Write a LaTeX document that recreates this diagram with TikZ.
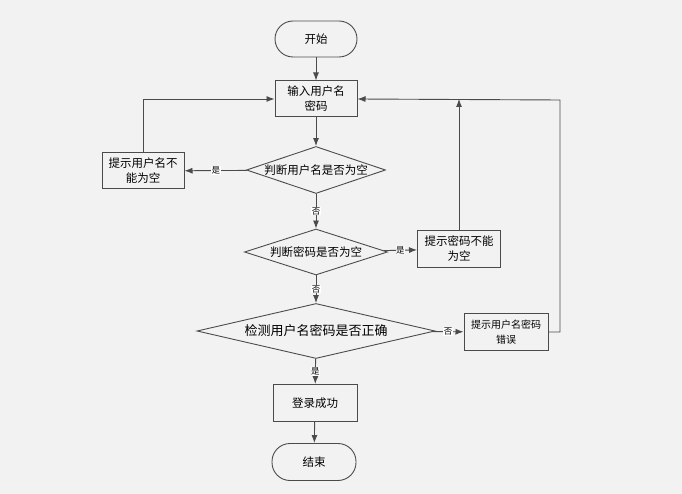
\documentclass[tikz,border=0pt]{standalone}
\usepackage{fontspec}
\setmainfont{Noto Sans CJK SC}
\usetikzlibrary{shapes.geometric,arrows.meta}
\definecolor{bggray}{RGB}{242,242,242}
\definecolor{linegray}{RGB}{75,75,75}

\begin{document}
\begin{tikzpicture}[x=1pt,y=-1pt,
		>={Latex[length=8pt,width=6pt]},
		every path/.style={draw=linegray, line width=0.9pt},
		term/.style={rectangle, rounded corners=18pt, draw, fill=bggray, line width=0.9pt, minimum width=82pt, minimum height=36pt, font=\fontsize{11.5}{15}\selectfont},
		proc/.style={rectangle, draw, fill=bggray, line width=1pt, minimum width=82pt, minimum height=36pt, inner sep=1pt, align=center, font=\fontsize{11.5}{15}\selectfont},
		dec/.style={diamond, draw, fill=bggray, line width=0.9pt, inner sep=0pt, label={[font=\fontsize{11.5}{15}\selectfont]center:#1}},
		yesno/.style={fill=white, inner sep=0.5pt, font=\fontsize{8.5}{9}\selectfont}]
			\fill[bggray, draw=none] (0,0) rectangle (682,494);
			
			\node[term] (start) at (316,39) {开始};
			\node[proc] (input) at (316,99) {输入用户名\\密码};
			\node[dec=判断用户名是否为空, minimum width=139pt, minimum height=47pt] (chkuser) at (316,170) {};
			\node[proc] (userempty) at (143,171) {提示用户名不\\能为空};
			\node[dec=判断密码是否为空, minimum width=143pt, minimum height=46pt] (chkpwd) at (316,252) {};
			\node[proc, minimum width=83pt] (pwdempty) at (459,249) {提示密码不能\\为空};
			\node[diamond, draw, fill=bggray, line width=0.9pt, inner sep=0pt, minimum width=238pt, minimum height=55pt, label={[font=\fontsize{13}{15}\selectfont]center:检测用户名密码是否正确}] (chkall) at (316,331) {};
			\node[proc, minimum width=84pt, minimum height=37pt, font=\fontsize{10}{15}\selectfont] (wrong) at (506,332) {提示用户名密码\\错误};
			\node[proc, minimum width=84pt, minimum height=37pt] (success) at (315,403) {登录成功};
			\node[term, minimum width=84pt, minimum height=37pt] (end) at (314,462) {结束};
			
			\coordinate (pwdjoin) at (pwdempty.north |- input.east);
			\coordinate (rightrail) at (560,100);
			
			\draw[->] (start) edge (input);
			\draw[->] (input) edge (chkuser);
			\draw[->] (chkuser) edge node[yesno] {是} (userempty);
			\draw[->] (chkuser) edge node[yesno] {否} (chkpwd);
			\draw[->] (chkpwd) edge node[yesno] {是} (pwdempty);
			\draw[->] (chkpwd) edge node[yesno] {否} (chkall);
			\draw[->] (chkall) edge node[yesno] {否} (wrong);
			\draw[->] (chkall) edge node[yesno] {是} (success);
			\draw[->] (success) edge (end);
			
			\draw[->] (userempty.north) |- (input.west);
			\draw[->] (pwdempty.north) -- (pwdjoin);
			\draw[->] (wrong.east) -| (rightrail) -- (input.east);
			\end{tikzpicture}
\end{document}
